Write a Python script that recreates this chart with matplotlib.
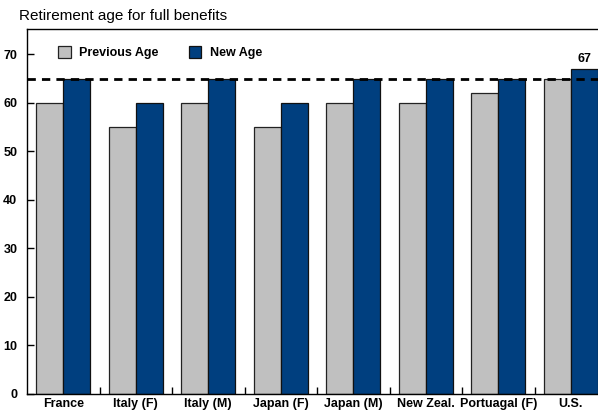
import matplotlib
matplotlib.use('Agg')
import matplotlib.pyplot as plt
import numpy as np

plt.rcParams['font.family'] = ['Liberation Sans', 'DejaVu Sans']

countries = ['France', 'Italy (F)', 'Italy (M)', 'Japan (F)', 'Japan (M)',
             'New Zeal.', 'Portuagal (F)', 'U.S.']
previous_age = [60, 55, 60, 55, 60, 60, 62, 65]
new_age = [65, 60, 65, 60, 65, 65, 65, 67]
us_label = 67
ref_line = 65

gray = '#c0c0c0'
blue = '#003f7f'

fig = plt.figure(figsize=(5.98, 4.12), dpi=100)
ax = fig.add_axes([27/598, 18/412, 571/598, 365/412])

x = np.arange(len(countries))
w = 0.375
ax.bar(x - w/2, previous_age, w, color=gray, edgecolor='#222222', linewidth=0.9, label='Previous Age', zorder=2)
ax.bar(x + w/2, new_age, w, color=blue, edgecolor='#111111', linewidth=0.9, label='New Age', zorder=2)
ax.axhline(ref_line, color='black', linestyle=(0, (3, 2.2)), linewidth=2, zorder=3)
ax.text(x[-1] + w/2, new_age[-1] + 0.7, str(us_label), ha='center', va='bottom',
        fontsize=9, fontweight='bold')

ax.set_xlim(-0.5, len(countries) - 1 + w)
ax.set_ylim(0, 75.2)
ax.set_yticks(np.arange(0, 71, 10))
ax.set_xticks(x)
ax.set_xticklabels(countries, fontsize=9, fontweight='bold')
ax.set_xticks(np.arange(0.5, len(countries) - 1, 1), minor=True)
ax.tick_params(axis='x', which='major', length=0, pad=3)
ax.tick_params(axis='x', which='minor', direction='in', length=5, width=1)
ax.tick_params(axis='y', direction='in', length=5, width=1, labelsize=9, pad=7)
for lab in ax.get_yticklabels():
    lab.set_fontweight('bold')
ax.spines['right'].set_visible(False)
for s in ['left', 'bottom', 'top']:
    ax.spines[s].set_linewidth(1)

leg = ax.legend(loc='upper left', bbox_to_anchor=(0.035, 0.983), ncol=2, frameon=False,
                handlelength=1, handleheight=1, columnspacing=2.4, handletextpad=0.7,
                prop={'weight': 'bold', 'size': 9})

fig.text(19/598, 1 - 16/412, 'Retirement age for full benefits', fontsize=11, va='center', ha='left')

fig.savefig('out.png', dpi=100)
